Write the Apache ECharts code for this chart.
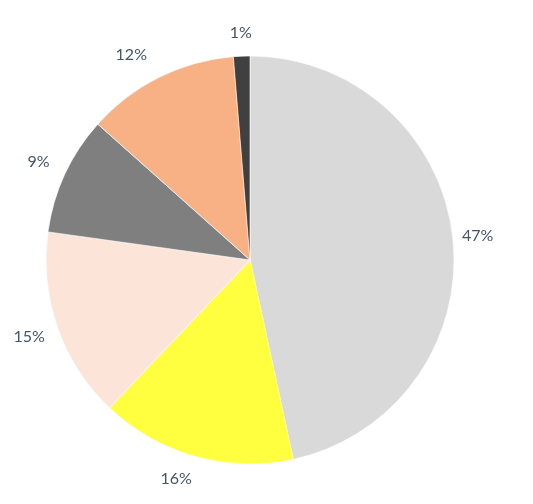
<!DOCTYPE html>
<html><head><meta charset="utf-8">
<script src="https://cdn.jsdelivr.net/npm/echarts@6/dist/echarts.min.js"></script>
<style>html,body{margin:0;padding:0;background:#fff}#c{width:533px;height:504px}</style>
</head><body><div id="c"></div>
<script>
const categories = ['A','B','C','D','E','F'];
const values = [46.6, 15.5, 15.1, 9.4, 12.1, 1.3];
const colors = ['#d9d9d9','#ffff40','#fde4d8','#7f7f7f','#f8b185','#404040'];
// label placement tweaks (layout only): angular nudge in degrees, distance from centre
const labelNudge = [0, 3, 0, 0, -3.6, 0];
const labelDist = [229, 231, 234, 233, 237, 227];
const CX = 250, CY = 260, R = 204;
const total = values.reduce((a,b)=>a+b,0);
const mids = []; let acc = 0;
values.forEach(v=>{ mids.push((acc + v/2)/total*360); acc += v; });
const data = categories.map((c,i)=>({name:c,value:values[i],itemStyle:{color:colors[i]}}));
const chart = echarts.init(document.getElementById('c'));
chart.setOption({
  animation:false,
  series:[
    {type:'pie',center:[CX,CY],radius:[0,R],startAngle:90,clockwise:true,
     label:{show:false},labelLine:{show:false},silent:true,
     itemStyle:{borderColor:'#fff',borderWidth:0.6},
     data:data},
    {type:'pie',center:[CX,CY],radius:[R+10,R+50],startAngle:90,clockwise:true,silent:true,
     itemStyle:{color:'rgba(0,0,0,0)'},
     label:{show:true,position:'inside',fontFamily:'Lato',fontSize:16,color:'#44546a',
       formatter:p=>Math.round(p.percent)+'%'},
     labelLine:{show:false},
     labelLayout:function(p){
       const i = p.dataIndex;
       const a = (mids[i] + labelNudge[i]) * Math.PI/180;
       const d = labelDist[i];
       return {x: CX + d*Math.sin(a), y: CY - d*Math.cos(a), align:'center', verticalAlign:'middle'};
     },
     data:categories.map((c,i)=>({name:c,value:values[i]}))}
  ]
});
</script></body></html>
